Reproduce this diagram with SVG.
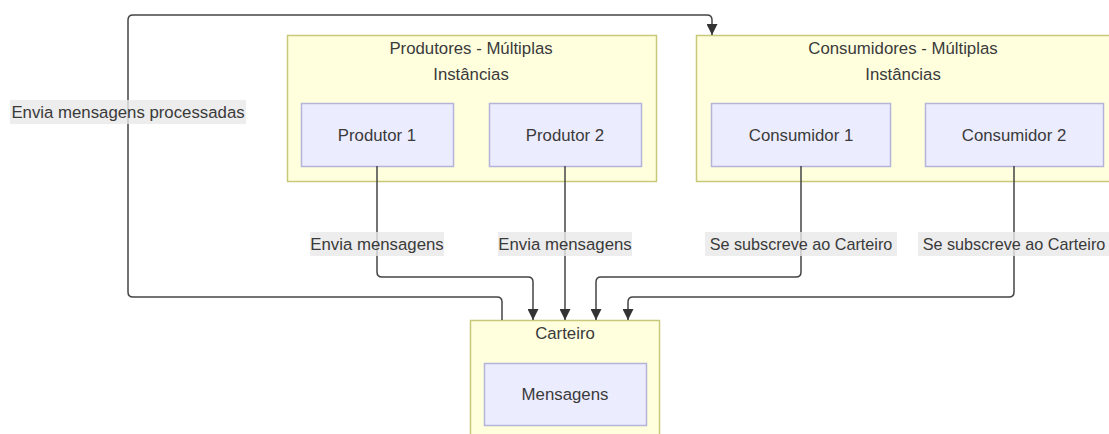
<svg xmlns="http://www.w3.org/2000/svg" width="1109" height="434" viewBox="0 0 1109 434">
<style>
.cluster{fill:#ffffde;stroke:#c8c87a;stroke-width:1.5}
.node{fill:#ececff;stroke:#b4b4d8;stroke-width:1.5}
text{font-family:"Liberation Sans",Arial,sans-serif;font-size:16.8px;fill:#3a3a3a;text-anchor:middle;dominant-baseline:central}
.sub{font-size:16.2px}
.edge{fill:none;stroke:#444;stroke-width:1.5}
.lbg{fill:#e8e8e8;opacity:0.8}
</style>
<defs>
<marker id="arr" viewBox="0 0 10 10" refX="10" refY="5" markerWidth="11" markerHeight="11" markerUnits="userSpaceOnUse" orient="auto">
<path d="M0,0 L10,5 L0,10 z" fill="#333"/>
</marker>
</defs>
<rect width="1109" height="434" fill="#fff"/>
<g id="produtores">
<rect class="cluster" x="287.5" y="35.5" width="369" height="146"/>
<text x="471" y="48">Produtores - Múltiplas</text>
<text x="471" y="74">Instâncias</text>
</g>
<g id="consumidores">
<rect class="cluster" x="696.5" y="35.5" width="420" height="146"/>
<text x="903" y="48">Consumidores - Múltiplas</text>
<text x="903" y="74">Instâncias</text>
</g>
<g id="carteiro">
<rect class="cluster" x="470.5" y="320.5" width="189" height="130"/>
<text x="565" y="333">Carteiro</text>
</g>
<g id="produtor1">
<rect class="node" x="301.5" y="103.5" width="152" height="63"/>
<text x="377" y="135">Produtor 1</text>
</g>
<g id="produtor2">
<rect class="node" x="489.5" y="103.5" width="152" height="63"/>
<text x="565" y="135">Produtor 2</text>
</g>
<g id="consumidor1">
<rect class="node" x="711.5" y="103.5" width="179" height="63"/>
<text x="801" y="135">Consumidor 1</text>
</g>
<g id="consumidor2">
<rect class="node" x="925.5" y="103.5" width="178" height="63"/>
<text x="1014" y="135">Consumidor 2</text>
</g>
<g id="mensagens">
<rect class="node" x="484.5" y="363.5" width="162" height="62"/>
<text x="565" y="394">Mensagens</text>
</g>
<g id="connectors">
<path class="edge" d="M377,166 V272 Q377,277 382,277 H528 Q533,277 533,282 V320" marker-end="url(#arr)"/>
<path class="edge" d="M565,166 V320" marker-end="url(#arr)"/>
<path class="edge" d="M801,166 V272 Q801,277 796,277 H601 Q596,277 596,282 V320" marker-end="url(#arr)"/>
<path class="edge" d="M1014,166 V292 Q1014,297 1009,297 H633 Q628,297 628,302 V320" marker-end="url(#arr)"/>
<path class="edge" d="M502,320 V302 Q502,297 497,297 H133 Q128,297 128,292 V20 Q128,15 133,15 H707 Q712,15 712,20 V35" marker-end="url(#arr)"/>
<rect class="lbg" x="10" y="100" width="236" height="24"/>
<text x="128" y="112">Envia mensagens processadas</text>
<rect class="lbg" x="310" y="232" width="134" height="24"/>
<text x="377" y="244">Envia mensagens</text>
<rect class="lbg" x="498" y="232" width="134" height="24"/>
<text x="565" y="244">Envia mensagens</text>
<rect class="lbg" x="705" y="232" width="192" height="24"/>
<text class="sub" x="801" y="244">Se subscreve ao Carteiro</text>
<rect class="lbg" x="918" y="232" width="192" height="24"/>
<text class="sub" x="1014" y="244">Se subscreve ao Carteiro</text>
</g>
</svg>
